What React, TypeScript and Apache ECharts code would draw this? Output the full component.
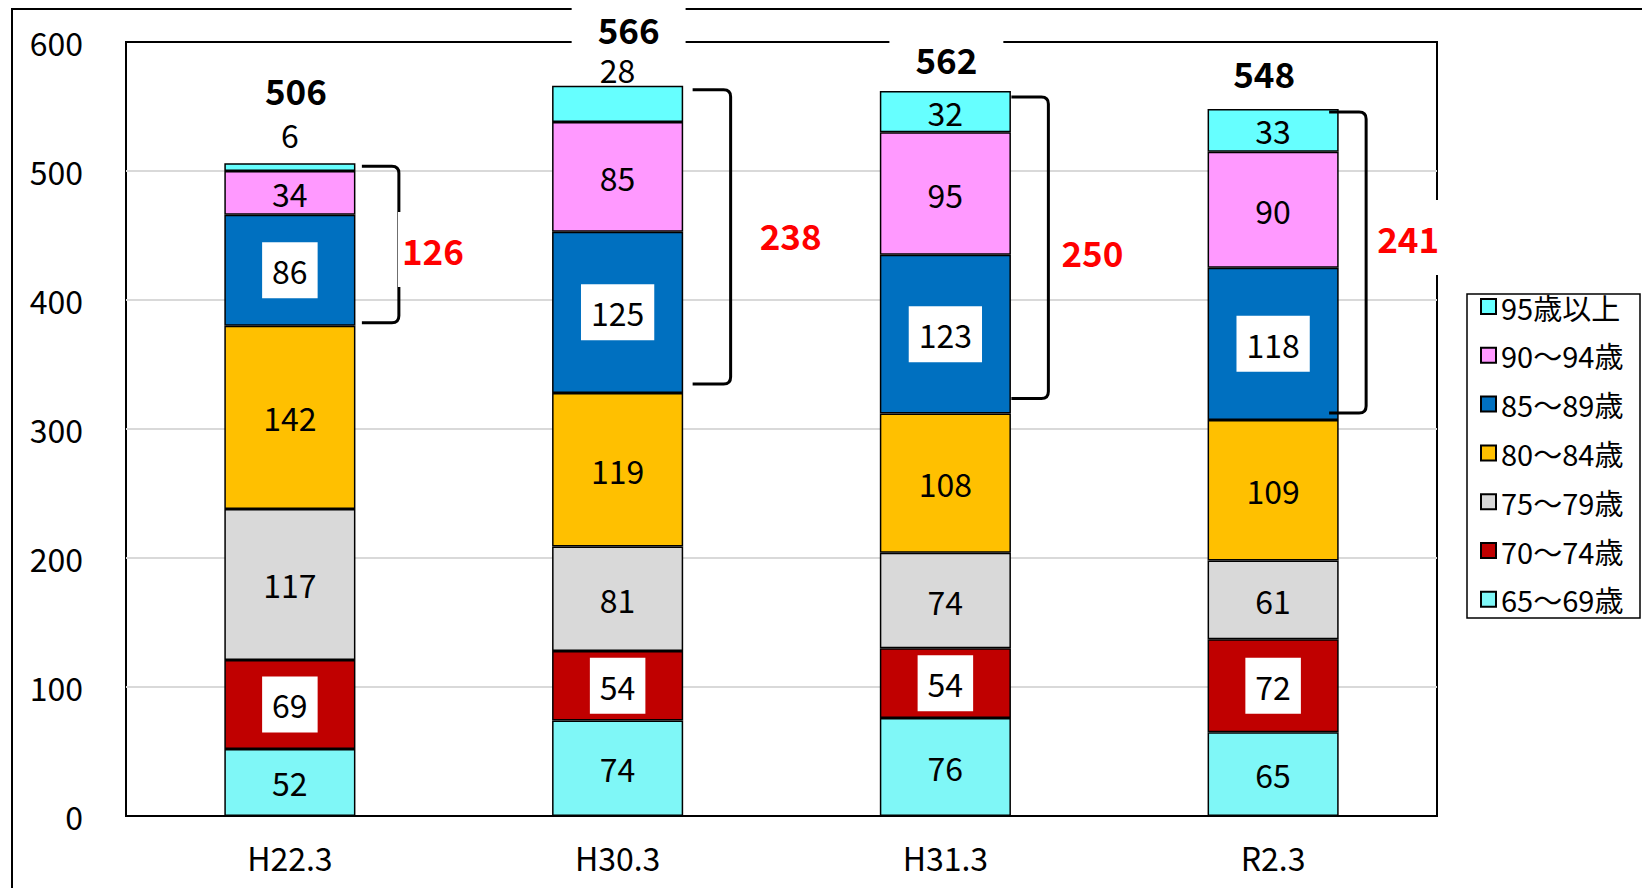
import React, { useEffect, useRef } from "react";
import * as echarts from "echarts";

// ---- data ----
const categories = ["H22.3", "H30.3", "H31.3", "R2.3"];
const seriesNames = ["65～69歳", "70～74歳", "75～79歳", "80～84歳", "85～89歳", "90～94歳", "95歳以上"];
const age65_69 = [52, 74, 76, 65];
const age70_74 = [69, 54, 54, 72];
const age75_79 = [117, 81, 74, 61];
const age80_84 = [142, 119, 108, 109];
const age85_89 = [86, 125, 123, 118];
const age90_94 = [34, 85, 95, 90];
const age95plus = [6, 28, 32, 33];
const totals = [506, 566, 562, 548];
const yMin = 0;
const yMax = 600;
const yInterval = 100;

// ---- styles / layout (not data) ----
const colors = ["#7FF7F7", "#C00000", "#D9D9D9", "#FFC000", "#0070C0", "#FF99FF", "#66FFFF"];
const whiteBoxSeries = [1, 4]; // 70～74, 85～89 labels on white boxes
const topSegLabelPos = ["top", "top", "inside", "inside"];
const topSegLabelDist = [11, -1, 5, 5];
const totalLabelOffsets = [[6, -74], [11, -57], [1, -33], [-9, -37]];
// [startDx, vertDx, labelDx, labelDy, topInset, bottomInset]
const bracketLayout = [
  [72, 109, 143, 5, 3, 3],
  [75, 113, 173, -2, 4, 9],
  [66, 103, 147, 4, 6, 15],
  [56, 93, 135, -25, 3, 7],
];
// split line colours: the first and last (0 and 600) coincide with the black plot frame
const splitColors = ["#000", "#D9D9D9", "#D9D9D9", "#D9D9D9", "#D9D9D9", "#D9D9D9"];

const FONT = '"Noto Sans CJK JP", "Noto Sans", sans-serif';

export default function App() {
  const ref = useRef<HTMLDivElement>(null);

  useEffect(() => {
    if (!ref.current) return;
    const chart = echarts.init(ref.current, undefined, { renderer: "svg" });
    const values = [age65_69, age70_74, age75_79, age80_84, age85_89, age90_94, age95plus];

    const barSeries = values.map((vals, si) => {
      const isBoxed = whiteBoxSeries.includes(si);
      const isTop = si === values.length - 1;
      return {
        name: seriesNames[si],
        type: "bar",
        stack: "total",
        barWidth: "40%",
        z: 2,
        itemStyle: { color: colors[si], borderColor: "#000", borderWidth: 1.5 },
        label: {
          show: true,
          position: "inside",
          color: "#000",
          fontFamily: FONT,
          fontSize: 32,
          lineHeight: 36,
          ...(isBoxed ? { backgroundColor: "#fff", padding: [10, 10] } : {}),
        },
        data: vals.map((v, i) =>
          isTop
            ? { value: v, label: { position: topSegLabelPos[i], distance: topSegLabelDist[i] } }
            : v
        ),
      };
    });

    const bracketData = categories.map((_, i) => {
      const low = age65_69[i] + age70_74[i] + age75_79[i] + age80_84[i];
      const high = totals[i];
      const sum = age85_89[i] + age90_94[i] + age95plus[i];
      return [i, low, high, sum];
    });

    const totalData = categories.map((_, i) => [i, totals[i]]);

    chart.setOption({
      animation: false,
      backgroundColor: "transparent",
      textStyle: { fontFamily: FONT },
      grid: {
        left: 126,
        top: 42,
        right: 205,
        bottom: 72,
        show: true,
        borderColor: "#000",
        borderWidth: 2,
        backgroundColor: "transparent",
      },
      legend: {
        orient: "vertical",
        left: 1480,
        top: 292,
        padding: 0,
        itemWidth: 15,
        itemHeight: 15,
        itemGap: 19.8,
        icon: "rect",
        data: [...seriesNames].reverse(),
        textStyle: { fontFamily: FONT, fontSize: 29, lineHeight: 28, color: "#000" },
      },
      graphic: [
        {
          type: "rect",
          z: -1,
          shape: { x: 1467, y: 294, width: 173, height: 324 },
          style: { fill: "#fff", stroke: "#000", lineWidth: 1.5 },
        },
      ],
      xAxis: {
        type: "category",
        data: categories,
        axisLine: { show: true, lineStyle: { color: "#000", width: 2 } },
        axisTick: { show: false },
        axisLabel: { color: "#000", fontFamily: FONT, fontSize: 32, margin: 25 },
      },
      yAxis: {
        type: "value",
        min: yMin,
        max: yMax,
        interval: yInterval,
        axisLine: { show: false },
        axisTick: { show: false },
        axisLabel: { color: "#000", fontFamily: FONT, fontSize: 32, margin: 43 },
        splitLine: { lineStyle: { color: splitColors, width: 2 } },
      },
      series: [
        ...barSeries,
        {
          name: "brackets",
          type: "custom",
          z: 5,
          clip: false,
          encode: { x: 0, y: 2 },
          data: bracketData,
          renderItem: (params: any, api: any) => {
            const i = api.value(0);
            const low = api.value(1);
            const high = api.value(2);
            const sum = api.value(3);
            const top = api.coord([i, high]);
            const bot = api.coord([i, low]);
            const L = bracketLayout[params.dataIndex];
            const cx = top[0];
            const x0 = cx + L[0];
            const xv = cx + L[1];
            const y0 = top[1] + L[4];
            const y1 = bot[1] - L[5];
            const r = 7;
            const d = `M${x0} ${y0} L${xv - r} ${y0} Q${xv} ${y0} ${xv} ${y0 + r} L${xv} ${y1 - r} Q${xv} ${y1} ${xv - r} ${y1} L${x0} ${y1}`;
            return {
              type: "group",
              children: [
                {
                  type: "path",
                  shape: { pathData: d },
                  style: { stroke: "#000", lineWidth: 3, fill: "none" },
                },
                {
                  type: "text",
                  x: cx + L[2],
                  y: (y0 + y1) / 2 + L[3],
                  style: {
                    text: String(sum),
                    font: `bold 35px ${FONT}`,
                    fill: "#FF0000",
                    align: "center",
                    verticalAlign: "middle",
                    backgroundColor: "#fff",
                    padding: [20, 4],
                  },
                },
              ],
            };
          },
        },
        {
          name: "totals",
          type: "custom",
          z: 10,
          clip: false,
          encode: { x: 0, y: 1 },
          data: totalData,
          renderItem: (params: any, api: any) => {
            const i = api.value(0);
            const t = api.value(1);
            const p = api.coord([i, t]);
            const off = totalLabelOffsets[params.dataIndex];
            return {
              type: "text",
              x: p[0] + off[0],
              y: p[1] + off[1],
              style: {
                text: String(t),
                font: `bold 35px ${FONT}`,
                fill: "#000",
                align: "center",
                verticalAlign: "middle",
                backgroundColor: "#fff",
                padding: [8, 26],
              },
            };
          },
        },
      ],
    });

    return () => chart.dispose();
  }, []);

  return (
    <div style={{ position: "absolute", left: 0, top: 0, width: 1642, height: 888, background: "#fff", overflow: "hidden" }}>
      <div
        style={{
          position: "absolute",
          left: 11,
          top: 8,
          width: 1700,
          height: 900,
          borderTop: "2px solid #000",
          borderLeft: "2px solid #000",
        }}
      />
      <div ref={ref} style={{ position: "absolute", left: 0, top: 0, width: 1642, height: 888 }} />
    </div>
  );
}
